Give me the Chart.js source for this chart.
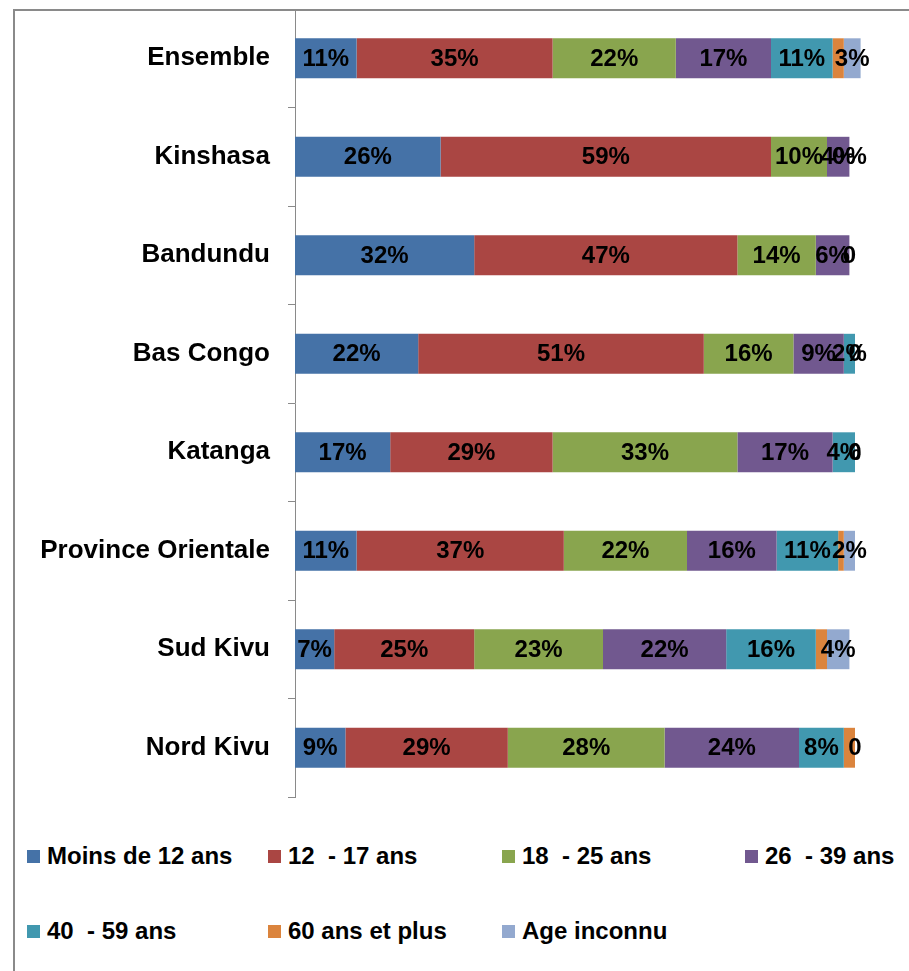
<!DOCTYPE html>
<html>
<head>
<meta charset="utf-8">
<script src="https://cdn.jsdelivr.net/npm/chart.js@4"></script>
<style>
  html, body { margin: 0; padding: 0; background: #fff; }
  body { width: 909px; height: 971px; position: relative; overflow: hidden; font-family: "Liberation Sans", Arial, sans-serif; }
  #frame { position: absolute; left: 13px; top: 9px; width: 1000px; height: 1000px; border-left: 2px solid #8a8a8a; border-top: 2px solid #8a8a8a; }
  #wrap { position: absolute; left: 0; top: 0; width: 909px; height: 800px; }
  #legend { position: absolute; left: 27px; top: 838px; }
  .row { display: flex; height: 75px; }
  .item { display: flex; align-items: center; height: 36px; font-weight: bold; font-size: 24px; color: #000; white-space: pre; }
  .item span.box { width: 13px; height: 13px; margin-right: 7px; flex: none; }
</style>
</head>
<body>
<div id="frame"></div>
<div id="wrap"><canvas id="chart" width="909" height="800"></canvas></div>
<div id="legend"></div>
<script>
const categories = ['Ensemble', 'Kinshasa', 'Bandundu', 'Bas Congo', 'Katanga', 'Province Orientale', 'Sud Kivu', 'Nord Kivu'];
const moins12 = [11, 26, 32, 22, 17, 11, 7, 9];
const ans12_17 = [35, 59, 47, 51, 29, 37, 25, 29];
const ans18_25 = [22, 10, 14, 16, 33, 22, 23, 28];
const ans26_39 = [17, 4, 6, 9, 17, 16, 22, 24];
const ans40_59 = [11, 0, 0, 2, 4, 11, 16, 8];
const ans60plus = [2, 0, 0, 0, 0, 1, 2, 2];
const inconnu = [3, 0, 0, 0, 0, 2, 4, 0];
// text shown at the end of a bar for the empty "Age inconnu" segment
const zeroLabels = [null, '0%', '0', '0', '0', null, null, '0'];

const seriesNames = ['Moins de 12 ans', '12  - 17 ans', '18  - 25 ans', '26  - 39 ans', '40  - 59 ans', '60 ans et plus', 'Age inconnu'];
const seriesValues = [moins12, ans12_17, ans18_25, ans26_39, ans40_59, ans60plus, inconnu];
const colors = ['#4572A7', '#AA4643', '#89A54E', '#71588F', '#4198AF', '#DB843D', '#93A9CF'];
const showLabels = [true, true, true, true, true, false, true];

const FONT = '"Liberation Sans", Arial, sans-serif';

const barLabels = {
    id: 'barLabels',
    afterDatasetsDraw(chart) {
        const ctx = chart.ctx;
        ctx.save();
        ctx.font = 'bold 24px ' + FONT;
        ctx.fillStyle = '#000';
        ctx.textAlign = 'center';
        ctx.textBaseline = 'middle';
        chart.data.datasets.forEach((ds, di) => {
            if (!showLabels[di]) return;
            chart.getDatasetMeta(di).data.forEach((el, i) => {
                const v = ds.data[i];
                if (v > 0) {
                    ctx.fillText(v + '%', (el.x + el.base) / 2, el.y + 1);
                } else if (di === seriesValues.length - 1 && zeroLabels[i]) {
                    ctx.fillText(zeroLabels[i], el.x, el.y + 1);
                }
            });
        });
        ctx.restore();
    }
};

new Chart(document.getElementById('chart'), {
    type: 'bar',
    data: {
        labels: categories,
        datasets: seriesNames.map((name, k) => ({
            label: name,
            data: seriesValues[k],
            backgroundColor: colors[k],
            borderWidth: 0,
            categoryPercentage: 1,
            barPercentage: 0.405
        }))
    },
    options: {
        indexAxis: 'y',
        responsive: false,
        animation: false,
        layout: { padding: { top: 9, bottom: 3, left: 0, right: 26 } },
        plugins: {
            legend: { display: false },
            tooltip: { enabled: false }
        },
        scales: {
            x: { stacked: true, display: false, min: 0, max: 105 },
            y: {
                stacked: true,
                afterFit: scale => {
                    scale.width = 295;
                    scale.paddingTop = 0;
                    scale.paddingBottom = 0;
                },
                border: { display: true, color: '#8a8a8a', width: 1 },
                grid: { offset: true, drawOnChartArea: false, drawTicks: true, tickLength: 7, color: '#8a8a8a' },
                ticks: { color: '#000', padding: 18, font: { family: FONT, size: 26, weight: 'bold' } }
            }
        }
    },
    plugins: [barLabels]
});

// legend laid out in fixed columns like the original
const legendRows = [[0, 1, 2, 3], [4, 5, 6]];
const colWidths = [241, 234, 243, 200];
const legend = document.getElementById('legend');
legendRows.forEach(row => {
    const r = document.createElement('div');
    r.className = 'row';
    row.forEach((k, c) => {
        const it = document.createElement('div');
        it.className = 'item';
        it.style.width = colWidths[c] + 'px';
        const box = document.createElement('span');
        box.className = 'box';
        box.style.background = colors[k];
        it.appendChild(box);
        it.appendChild(document.createTextNode(seriesNames[k]));
        r.appendChild(it);
    });
    legend.appendChild(r);
});
</script>
</body>
</html>
